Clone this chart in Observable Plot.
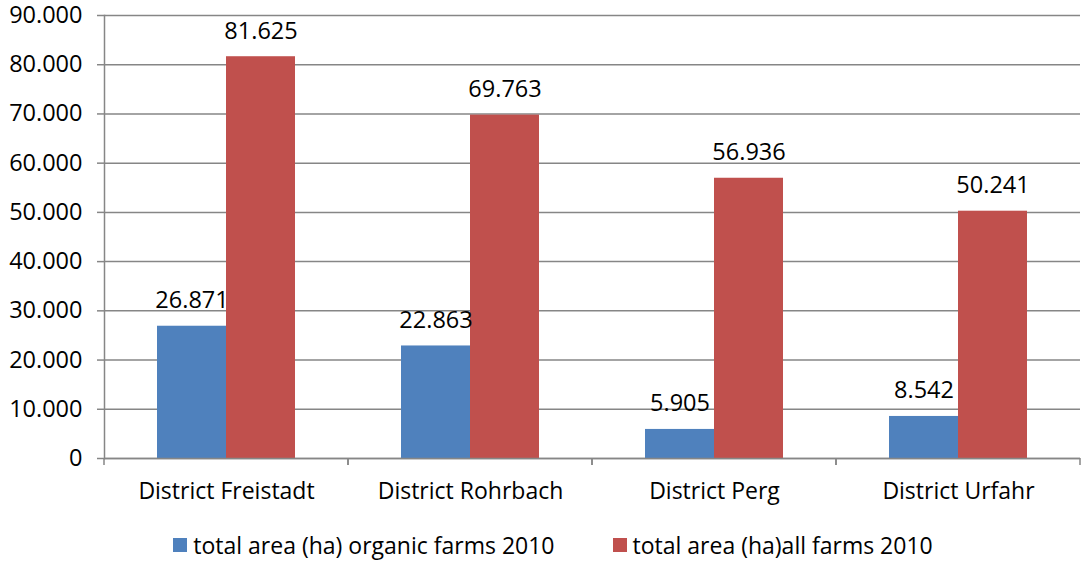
<!DOCTYPE html>
<html>
<head>
<meta charset="utf-8">
<script src="https://cdn.jsdelivr.net/npm/d3@7"></script>
<script src="https://cdn.jsdelivr.net/npm/@observablehq/plot@0.6"></script>
<style>
  html, body { margin: 0; padding: 0; background: #fff; }
  body { width: 1084px; height: 562px; overflow: hidden; font-family: "Open Sans", sans-serif; }
  #chart svg { overflow: visible; display: block; }
  #legend { display: flex; justify-content: center; gap: 58px; margin-top: 16px; padding-left: 22px; font-size: 23px; line-height: 28px; color: #000; }
  .item { display: flex; align-items: center; gap: 6px; }
  .sw { width: 14px; height: 14px; display: inline-block; }
</style>
</head>
<body>
<div id="chart"></div>
<div id="legend"></div>
<script>
const districts = ["District Freistadt", "District Rohrbach", "District Perg", "District Urfahr"];
const seriesNames = ["total area (ha) organic farms 2010", "total area (ha)all farms 2010"];
const organic = [26871, 22863, 5905, 8542];
const allFarms = [81625, 69763, 56936, 50241];
const colors = ["#4F81BD", "#C0504D"];
const yTicks = [0, 10000, 20000, 30000, 40000, 50000, 60000, 70000, 80000, 90000];

const data = [];
districts.forEach((d, i) => {
  data.push({district: d, series: seriesNames[0], value: organic[i]});
  data.push({district: d, series: seriesNames[1], value: allFarms[i]});
});

const de = d3.formatLocale({decimal: ",", thousands: ".", grouping: [3], currency: ["", "€"]});
const fmt = de.format(",d");

const gridColor = "#868686";

function boundaryTicks(index, scales, values, dimensions) {
  const {marginLeft, marginRight, width} = dimensions;
  const y0 = scales.y(0);
  const g = d3.create("svg:g");
  for (const x of [marginLeft, width - marginRight]) {
    g.append("line")
      .attr("x1", x).attr("x2", x)
      .attr("y1", y0).attr("y2", y0 + 7)
      .attr("stroke", gridColor).attr("stroke-width", 1.5);
  }
  return g.node();
}

const chart = Plot.plot({
  width: 1084,
  height: 515,
  marginLeft: 103,
  marginRight: 4,
  marginTop: 15,
  marginBottom: 57,
  style: {fontFamily: "'Open Sans', sans-serif", color: "#000", background: "#fff", overflow: "visible"},
  fx: {domain: districts, padding: 0},
  x: {domain: seriesNames, paddingInner: 0, paddingOuter: 0.75, axis: null},
  y: {domain: [0, 90000]},
  color: {domain: seriesNames, range: colors},
  marks: [
    Plot.gridY(yTicks, {stroke: gridColor, strokeOpacity: 1, strokeWidth: 1.5}),
    Plot.barY(data, {fx: "district", x: "series", y: "value", fill: "series"}),
    Plot.ruleY([0], {stroke: gridColor, strokeWidth: 1.5}),
    Plot.frame({anchor: "left", facetAnchor: "left", stroke: gridColor, strokeWidth: 1.5}),
    boundaryTicks,
    Plot.axisY(yTicks, {tickSize: 7, tickPadding: 15, tickFormat: fmt, fontSize: 23.5, label: null, stroke: gridColor, strokeWidth: 1.5}),
    Plot.axisFx({anchor: "bottom", tickSize: 0, tickPadding: 24, fontSize: 23, label: null}),
    Plot.text(data, {fx: "district", x: "series", y: "value", text: d => fmt(d.value), lineAnchor: "bottom", dy: -18, fontSize: 23.5, fill: "#000"})
  ]
});
document.getElementById("chart").appendChild(chart);

const legend = document.getElementById("legend");
seriesNames.forEach((s, i) => {
  const item = document.createElement("div");
  item.className = "item";
  const sw = document.createElement("span");
  sw.className = "sw";
  sw.style.background = colors[i];
  const t = document.createElement("span");
  t.textContent = s;
  item.appendChild(sw);
  item.appendChild(t);
  legend.appendChild(item);
});
</script>
</body>
</html>
